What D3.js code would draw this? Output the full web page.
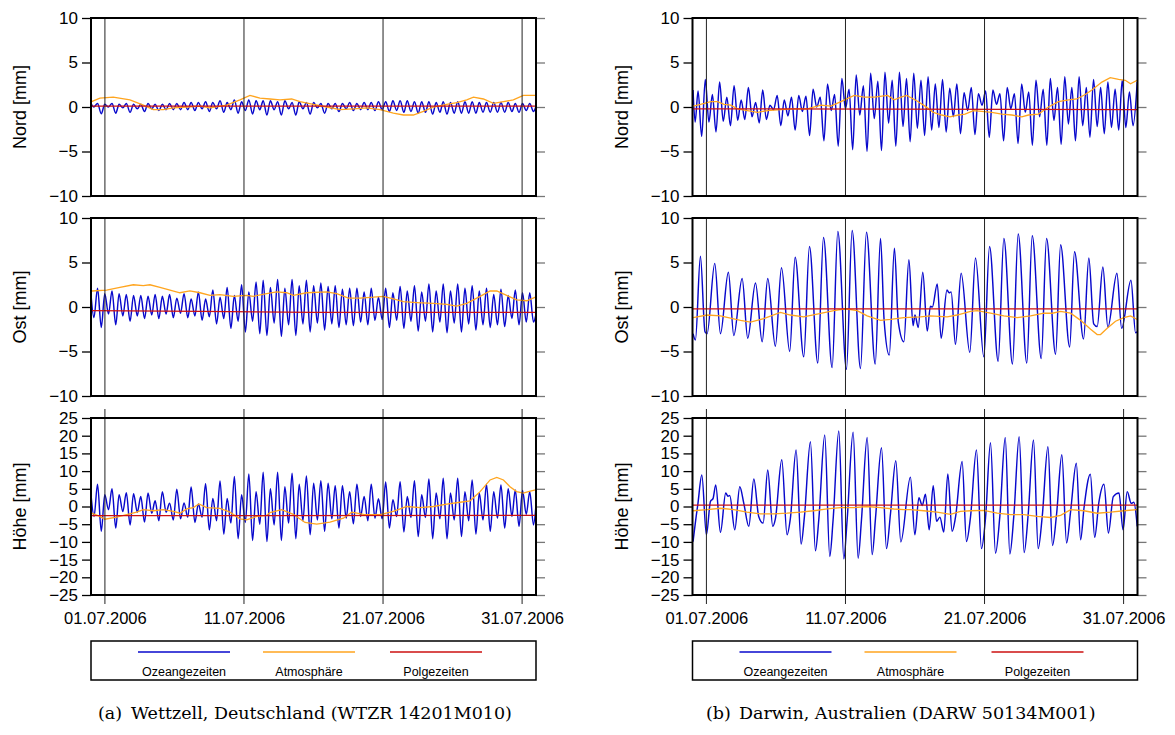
<!DOCTYPE html>
<html><head><meta charset="utf-8">
<script src="https://cdn.jsdelivr.net/npm/d3@7"></script>
<style>body{margin:0;background:#fff}svg{display:block}</style>
</head><body><svg id="c" width="1175" height="735"></svg>
<script>
// ---------- tick labels / categories ----------
const xTickLabels = ["01.07.2006","11.07.2006","21.07.2006","31.07.2006"];
const rowNames = ["Nord [mm]","Ost [mm]","Höhe [mm]"];
const yTicksNE = [-10,-5,0,5,10];
const yTicksH = [-25,-20,-15,-10,-5,0,5,10,15,20,25];
const legendLabels = ["Ozeangezeiten","Atmosphäre","Polgezeiten"];
const captionTags = ["(a)","(b)"];
const captions = ["Wettzell, Deutschland (WTZR 14201M010)","Darwin, Australien (DARW 50134M001)"];
// time axis: days since 30.06.2006 00:00
const dayDomain = [0,32];

// ---------- Wettzell ocean tide extrema (days, mm) ----------
const wtzPeakDays = [0.47,0.99,1.51,2.02,2.54,3.06,3.58,4.10,4.61,5.13,5.65,6.17,6.69,7.20,7.72,8.24,8.76,9.28,9.79,10.31,10.83,11.35,11.87,12.38,12.90,13.42,13.94,14.46,14.97,15.49,16.01,16.53,17.05,17.56,18.08,18.60,19.12,19.64,20.15,20.67,21.19,21.71,22.23,22.74,23.26,23.78,24.30,24.82,25.33,25.85,26.37,26.89,27.41,27.92,28.44,28.96,29.48,30.00,30.51,31.03,31.55];
const wtzTroughDays = [0.74,1.26,1.78,2.29,2.81,3.33,3.85,4.37,4.88,5.40,5.92,6.44,6.96,7.47,7.99,8.51,9.03,9.55,10.06,10.58,11.10,11.62,12.14,12.65,13.17,13.69,14.21,14.73,15.24,15.76,16.28,16.80,17.32,17.83,18.35,18.87,19.39,19.91,20.42,20.94,21.46,21.98,22.50,23.01,23.53,24.05,24.57,25.09,25.60,26.12,26.64,27.16,27.68,28.19,28.71,29.23,29.75,30.27,30.78,31.30,31.82];

const wtzNordPeaks = [0.4,0.3,0.4,0.3,0.4,0.3,0.3,0.4,0.3,0.3,0.4,0.4,0.5,0.5,0.5,0.6,0.5,0.7,0.5,0.8,0.6,0.8,0.7,0.7,0.7,0.6,0.7,0.5,0.6,0.5,0.5,0.4,0.4,0.4,0.4,0.5,0.4,0.5,0.5,0.6,0.6,0.7,0.7,0.7,0.6,0.6,0.6,0.5,0.6,0.5,0.6,0.6,0.6,0.5,0.5,0.5,0.5,0.5,0.4,0.4,0.4];
const wtzNordTroughs = [-0.75,0.0,-0.7,-0.1,-0.6,-0.2,-0.5,-0.2,-0.4,-0.3,-0.3,-0.3,-0.3,-0.4,-0.2,-0.5,-0.2,-0.6,-0.3,-0.7,-0.4,-0.8,-0.3,-0.9,-0.3,-0.9,-0.2,-0.9,-0.2,-0.8,-0.1,-0.7,-0.2,-0.5,-0.2,-0.4,-0.3,-0.3,-0.4,-0.3,-0.5,-0.4,-0.6,-0.5,-0.7,-0.6,-0.8,-0.6,-0.8,-0.7,-0.7,-0.7,-0.7,-0.6,-0.6,-0.6,-0.6,-0.5,-0.6,-0.4,-0.5];
const wtzNordEnds = [[0.0,0.4],[0.2,0.0],[32,0.1]];

const wtzOstPeaks = [2.1,1.5,1.8,1.5,1.4,1.3,1.3,1.2,1.4,1.2,1.4,1.0,1.5,0.9,1.7,0.9,1.9,1.1,2.2,1.3,2.5,1.7,2.8,3.0,2.2,3.1,2.1,3.1,2.4,3.0,2.4,2.7,2.3,2.4,2.0,2.1,2.1,1.7,2.1,1.1,2.1,1.6,2.3,1.8,2.4,1.7,2.6,1.8,2.6,1.8,2.6,2.1,2.4,1.8,2.1,1.4,2.0,1.3,1.9,1.6,1.6];
const wtzOstTroughs = [-2.3,-0.8,-2.0,-1.0,-1.6,-1.0,-1.3,-0.9,-1.3,-0.8,-1.2,-0.7,-1.2,-1.0,-1.5,-1.1,-1.9,-1.3,-2.4,-1.6,-2.8,-1.6,-3.0,-3.2,-1.8,-3.3,-2.0,-3.2,-1.9,-2.8,-1.8,-2.6,-1.9,-2.3,-2.0,-2.1,-1.7,-2.0,-1.5,-1.4,-2.3,-1.5,-2.4,-1.6,-2.7,-1.6,-2.8,-1.7,-2.9,-1.8,-2.8,-1.9,-2.6,-2.0,-2.3,-2.0,-2.2,-1.3,-2.0,-1.7,-1.7];
const wtzOstEnds = [[0.0,1.4],[0.21,-1.2],[32,-0.8]];

const wtzHoehePeaks = [6.3,3.3,5.0,3.3,3.9,3.6,2.8,3.8,1.6,4.2,0.9,4.9,1.0,5.5,0.7,6.4,2.3,7.2,2.3,8.5,3.3,9.2,4.2,9.7,5.0,9.7,5.6,9.4,6.3,8.6,6.6,7.3,6.6,5.9,5.9,4.2,6.3,2.8,6.3,2.2,6.9,1.9,7.0,2.8,7.3,3.3,7.8,3.8,8.0,3.8,8.0,4.2,7.5,3.8,6.3,4.2,6.1,5.0,4.7,4.5,4.2];
const wtzHoeheTroughs = [-7.0,-0.9,-6.1,-1.4,-5.2,-1.6,-4.4,-1.9,-4.0,-1.6,-3.8,-3.5,-3.0,-4.5,-3.0,-6.6,-4.0,-7.8,-4.7,-9.1,-4.5,-9.6,-5.0,-9.9,-5.2,-9.6,-4.7,-9.1,-4.0,-8.0,-3.8,-7.0,-3.5,-6.1,-3.3,-4.9,-2.8,-4.0,-3.3,-3.5,-6.1,-2.8,-7.2,-3.1,-8.5,-3.1,-9.1,-3.5,-9.1,-3.8,-8.5,-4.0,-7.8,-3.8,-7.0,-3.3,-6.1,-2.8,-5.6,-2.2,-5.2];
const wtzHoeheEnds = [[0.0,3.3],[0.22,-2.8],[32,0.5]];

// ---------- Wettzell atmosphere / pole tide ----------
const wtzNordAtm = [[0.04,0.6],[0.64,1.0],[1.6,1.1],[2.8,0.8],[3.76,0.2],[4.48,-0.3],[5.2,-0.3],[5.92,-0.1],[6.88,0.0],[7.84,0.1],[8.56,-0.1],[9.75,0.2],[10.71,0.8],[11.43,1.3],[12.15,1.0],[12.87,0.9],[13.59,0.8],[14.43,0.9],[15.03,0.6],[15.99,0.3],[16.95,0.0],[17.91,-0.3],[18.87,-0.2],[19.83,-0.1],[20.79,-0.3],[21.74,-0.7],[22.46,-0.9],[23.18,-0.9],[23.9,-0.5],[24.62,0.0],[25.58,0.3],[26.3,0.5],[27.02,0.8],[27.5,1.1],[28.22,0.9],[28.94,0.4],[29.66,0.6],[30.37,0.8],[31.09,1.3],[31.57,1.3],[31.96,1.3]];
const wtzOstAtm = [[0.04,1.8],[1.12,1.9],[2.08,2.2],[3.04,2.5],[3.76,2.4],[4.24,2.5],[4.96,2.2],[5.68,1.9],[6.39,1.6],[7.11,1.8],[7.84,1.6],[8.56,1.3],[9.27,1.4],[10.23,1.2],[11.19,1.3],[11.67,1.2],[12.63,1.5],[13.35,1.7],[14.07,1.6],[14.55,1.3],[15.51,1.6],[16.95,1.7],[17.67,1.5],[18.51,1.0],[19.35,1.0],[20.31,1.1],[21.02,1.2],[21.74,0.9],[22.46,0.6],[23.42,0.5],[24.62,0.4],[25.58,0.3],[26.3,0.1],[27.02,0.4],[27.98,1.2],[28.7,1.8],[29.18,1.8],[29.89,1.3],[30.61,0.8],[31.33,0.7],[31.96,1.1]];
const wtzHoeheAtm = [[0.04,-1.9],[0.64,-2.8],[1.0,-3.6],[1.84,-3.0],[2.56,-2.3],[3.28,-1.6],[3.76,-0.9],[4.48,-1.2],[5.2,-0.9],[5.92,-1.4],[6.4,-1.9],[6.88,-0.7],[7.36,-0.3],[7.76,0.7],[8.32,-0.3],[9.27,-0.5],[9.99,-1.6],[10.71,-3.5],[11.19,-3.8],[11.91,-2.8],[12.63,-2.5],[12.87,-1.7],[13.71,-0.9],[14.55,-2.2],[15.39,-4.5],[16.23,-5.0],[17.19,-4.4],[18.15,-3.3],[18.75,-1.6],[19.59,-2.2],[20.07,-2.3],[20.79,-2.3],[21.74,-1.4],[22.7,0.0],[23.66,-0.3],[24.62,0.0],[25.58,0.7],[26.54,1.2],[27.26,1.6],[27.98,4.2],[28.7,7.5],[29.18,8.2],[29.66,7.5],[30.13,5.6],[30.61,4.2],[31.09,3.8],[31.45,4.2],[31.96,4.7]];
const wtzNordPole = [[0,0.1],[32,0.1]];
const wtzOstPole = [[0,-0.4],[8,-0.5],[16,-0.6],[32,-0.6]];
const wtzHoehePole = [[0,-2.6],[32,-2.5]];

// ---------- Darwin ocean tide ----------
const darPeakDays = [0.40,0.92,1.43,1.95,2.47,2.99,3.50,4.02,4.54,5.05,5.57,6.09,6.60,7.12,7.64,8.16,8.67,9.19,9.71,10.22,10.74,11.26,11.77,12.29,12.81,13.33,13.84,14.36,14.88,15.39,15.91,16.43,16.94,17.46,17.98,18.50,19.01,19.53,20.05,20.56,21.08,21.60,22.11,22.63,23.15,23.67,24.18,24.70,25.22,25.73,26.25,26.77,27.28,27.80,28.32,28.84,29.35,29.87,30.39,30.90,31.42];
const darTroughDays = [0.66,1.18,1.69,2.21,2.73,3.25,3.76,4.28,4.80,5.31,5.83,6.35,6.86,7.38,7.90,8.42,8.93,9.45,9.97,10.48,11.00,11.52,12.03,12.55,13.07,13.59,14.10,14.62,15.14,15.65,16.17,16.69,17.20,17.72,18.24,18.76,19.27,19.79,20.31,20.82,21.34,21.86,22.37,22.89,23.41,23.93,24.44,24.96,25.48,25.99,26.51,27.03,27.54,28.06,28.58,29.10,29.61,30.13,30.65,31.16,31.68];
const darNordPeaks = [1.8,3.1,1.4,2.8,1.1,2.4,0.8,2.2,0.5,1.9,0.2,1.3,0.8,1.1,1.3,1.2,2.0,1.1,2.6,1.4,3.2,2.0,3.6,2.4,3.8,2.9,3.9,3.0,3.9,3.2,3.8,3.0,3.4,2.6,3.1,2.1,2.6,1.6,2.2,1.5,1.8,1.9,1.5,2.2,1.5,2.6,1.7,3.0,2.0,3.2,2.2,3.4,2.2,3.4,2.2,3.1,2.2,2.8,2.0,3.0,1.7];
const darNordTroughs = [-3.3,-1.7,-2.8,-1.6,-2.1,-1.5,-1.4,-1.1,-1.8,-1.4,-0.3,-2.1,-1.0,-2.6,-0.5,-3.2,0.0,-3.8,-0.4,-4.4,-0.2,-4.8,-0.9,-5.0,-1.3,-4.9,-1.8,-4.4,-2.2,-3.9,-2.4,-3.2,-2.6,-2.3,-2.8,-1.1,-3.0,-0.4,-3.1,0.2,-3.4,0.3,-3.8,-0.2,-4.1,-0.6,-4.3,-1.1,-4.3,-1.5,-4.2,-1.9,-3.8,-2.1,-3.4,-2.2,-3.0,-2.3,-2.6,-2.3,-2.1];
const darNordEnds = [[0.04,1.9],[0.19,-1.7],[31.98,2.8]];

const darOstTide = [[0.04,-3.0],[0.21,-3.7],[0.57,5.7],[0.9,-2.8],[1.05,-3.0],[1.60,4.9],[2.01,-3.0],[2.58,3.9],[2.97,-3.2],[3.57,3.2],[3.97,-3.5],[4.53,2.7],[5.01,-3.9],[5.41,3.2],[5.96,-4.4],[6.40,4.4],[6.99,-5.0],[7.38,5.6],[8.0,-5.6],[8.41,6.8],[9.01,-6.3],[9.42,7.8],[10.04,-6.8],[10.45,8.5],[11.07,-7.0],[11.48,8.6],[12.08,-6.9],[12.51,8.4],[13.14,-6.4],[13.52,7.7],[13.78,-1.5],[14.15,-5.4],[14.52,6.6],[14.8,-1.7],[15.2,-3.9],[15.56,5.3],[15.86,-2.1],[16.0,-0.9],[16.23,-2.3],[16.56,3.9],[16.88,-2.7],[17.11,0.1],[17.25,0.0],[17.6,2.6],[17.88,-3.5],[18.3,1.9],[18.45,1.6],[18.6,1.7],[18.91,-4.2],[19.32,3.8],[19.94,-5.1],[20.35,5.5],[20.95,-5.6],[21.36,6.8],[21.98,-6.1],[22.39,7.7],[23.01,-6.4],[23.42,8.2],[24.04,-6.3],[24.43,8.0],[25.08,-5.8],[25.46,7.7],[26.11,-5.3],[26.47,7.0],[27.12,-4.5],[27.47,6.2],[28.12,-3.6],[28.5,5.5],[28.85,-1.9],[29.1,-2.2],[29.51,4.5],[29.87,-2.3],[30.52,3.8],[30.86,-2.4],[31.53,3.0],[31.86,-2.9],[31.98,-2.8]];

const darHoeheTide = [[0.04,-9.9],[0.33,-0.9],[0.38,0.5],[0.67,8.9],[1.0,-8.0],[1.29,1.4],[1.48,2.3],[1.67,6.1],[2.01,-7.3],[2.39,3.8],[2.55,2.9],[2.68,3.1],[3.04,-6.6],[3.4,5.6],[3.69,0.9],[4.05,-5.6],[4.41,7.8],[4.76,-2.8],[5.08,-4.7],[5.41,10.3],[5.77,-5.6],[5.96,-3.5],[6.42,13.2],[6.8,-8.0],[7.04,-3.3],[7.45,16.0],[7.81,-10.6],[8.05,-2.8],[8.48,18.3],[8.84,-12.5],[9.08,-3.8],[9.51,20.2],[9.87,-14.1],[10.11,-3.8],[10.52,21.3],[10.88,-14.8],[11.12,-3.8],[11.55,21.0],[11.91,-14.6],[12.15,-3.8],[12.56,19.5],[12.92,-13.6],[13.16,-3.3],[13.59,16.6],[13.95,-11.9],[14.24,-1.9],[14.62,12.9],[14.98,-10.0],[15.67,8.3],[15.99,-8.0],[16.28,2.5],[16.52,0.3],[16.75,3.5],[17.02,-6.6],[17.31,5.9],[17.55,-4.2],[17.79,-3.0],[18.07,-7.2],[18.36,9.2],[18.67,-7.0],[18.91,-3.1],[19.39,12.7],[19.7,-9.9],[19.99,-3.0],[20.42,16.0],[20.78,-11.9],[21.07,-3.3],[21.43,18.0],[21.79,-13.2],[22.1,-2.8],[22.49,19.5],[22.82,-13.4],[23.11,-2.5],[23.49,19.7],[23.85,-13.0],[24.14,-2.2],[24.52,18.8],[24.86,-11.9],[25.15,-2.8],[25.56,16.9],[25.89,-11.0],[26.18,-2.2],[26.56,14.6],[26.9,-10.3],[27.19,-1.4],[27.6,12.2],[27.91,-9.4],[28.15,-0.5],[28.61,9.1],[28.92,-8.7],[29.23,1.4],[29.59,6.3],[29.91,-7.5],[30.26,2.8],[30.67,3.8],[30.96,-6.6],[31.26,4.2],[31.55,0.9],[31.74,1.2],[31.98,-5.6]];

// ---------- Darwin atmosphere / pole tide ----------
const darNordAtm = [[0.04,0.1],[0.58,0.3],[1.31,0.6],[1.79,0.6],[2.27,0.3],[2.75,0.2],[3.23,-0.2],[3.95,-0.4],[4.67,-0.6],[5.39,-0.4],[6.35,-0.3],[7.31,-0.2],[8.27,-0.2],[9.23,0.2],[9.95,0.1],[10.67,0.6],[11.63,1.3],[12.35,1.1],[13.07,1.1],[14.03,1.3],[14.51,0.8],[14.99,1.1],[15.4,1.3],[16.12,0.7],[16.72,0.1],[17.32,-0.6],[17.92,-0.9],[18.52,-1.1],[19.12,-0.9],[19.6,-0.8],[20.2,-0.4],[20.8,-0.5],[21.52,-0.6],[22.24,-0.8],[22.96,-0.9],[23.68,-1.1],[24.16,-0.9],[24.88,-0.8],[25.6,0.0],[26.32,0.6],[27.04,0.8],[27.64,0.9],[28.24,1.4],[28.72,1.9],[29.44,2.8],[30.04,3.3],[30.64,3.1],[31.12,3.0],[31.5,2.6],[31.98,3.0]];
const darOstAtm = [[0.04,-1.2],[1.05,-0.9],[2.01,-1.0],[3.45,-1.5],[4.17,-1.7],[5.12,-1.3],[6.32,-0.6],[7.04,-0.9],[8.0,-1.1],[8.96,-0.8],[10.16,-0.4],[11.0,-0.2],[11.84,-0.4],[12.56,-1.0],[13.52,-1.5],[14.24,-1.4],[15.2,-1.2],[16.39,-1.1],[17.11,-1.0],[18.31,-1.1],[19.03,-0.9],[19.99,-0.5],[20.47,-0.4],[21.43,-0.7],[22.39,-1.0],[23.35,-1.2],[24.31,-1.0],[25.27,-0.7],[25.87,-0.7],[26.47,-0.5],[27.19,-0.7],[27.91,-1.5],[28.63,-2.5],[29.1,-3.1],[29.34,-3.1],[29.82,-2.4],[30.42,-1.6],[31.02,-1.2],[31.5,-1.0],[31.98,-1.4]];
const darHoeheAtm = [[0.04,-1.2],[1.05,-0.9],[2.01,-0.5],[2.97,-0.9],[3.92,-1.6],[4.88,-2.1],[5.84,-2.1],[6.8,-1.9],[7.76,-1.6],[8.72,-1.2],[9.68,-0.7],[10.64,-0.3],[11.6,-0.3],[12.56,0.0],[13.52,-0.3],[14.48,-0.7],[15.2,-0.9],[15.67,-0.9],[16.63,-1.2],[17.59,-1.6],[18.55,-2.2],[19.27,-1.4],[19.99,-1.2],[20.95,-1.1],[21.91,-1.9],[22.87,-2.3],[23.83,-2.3],[24.79,-2.8],[25.75,-3.1],[26.47,-2.5],[27.19,-0.9],[28.15,-1.2],[29.1,-1.9],[30.06,-1.6],[31.02,-1.2],[31.98,-0.9]];
const darNordPole = [[0,-0.2],[32,-0.3]];
const darOstPole = [[0,-0.2],[32,-0.2]];
const darHoehePole = [[0,0.4],[32,0.4]];

// ---------- build ----------
function gridSeries(pd,pv,td,tv,ends){
  const pts = ends.map(d=>d.slice());
  pd.forEach((t,i)=>pts.push([t,pv[i]]));
  td.forEach((t,i)=>pts.push([t,tv[i]]));
  return pts.sort((a,b)=>a[0]-b[0]);
}
const panelsData = [
  [
    {tide:gridSeries(wtzPeakDays,wtzNordPeaks,wtzTroughDays,wtzNordTroughs,wtzNordEnds), atm:wtzNordAtm, pole:wtzNordPole},
    {tide:gridSeries(wtzPeakDays,wtzOstPeaks,wtzTroughDays,wtzOstTroughs,wtzOstEnds), atm:wtzOstAtm, pole:wtzOstPole},
    {tide:gridSeries(wtzPeakDays,wtzHoehePeaks,wtzTroughDays,wtzHoeheTroughs,wtzHoeheEnds), atm:wtzHoeheAtm, pole:wtzHoehePole}
  ],
  [
    {tide:gridSeries(darPeakDays,darNordPeaks,darTroughDays,darNordTroughs,darNordEnds), atm:darNordAtm, pole:darNordPole},
    {tide:darOstTide, atm:darOstAtm, pole:darOstPole},
    {tide:darHoeheTide, atm:darHoeheAtm, pole:darHoehePole}
  ]
];

const COLORS = {tide:"#0808cc", atm:"#ffa51f", pole:"#cc1010"};
const legendColors = [COLORS.tide, COLORS.atm, COLORS.pole];
const panelX = [91, 692.5], plotW = 445;
const rowY = [18, 218, 418], rowH = [178, 178, 177];
const t0 = Date.UTC(2006,5,30);
const toDate = d => new Date(t0 + d*864e5);
const parseTick = d3.utcParse("%d.%m.%Y");
const tickDates = xTickLabels.map(parseTick);

const svg = d3.select("#c");
const FONT = "Liberation Sans, Arial, sans-serif";

panelsData.forEach((rows, pi) => {
  const x = d3.scaleUtc().domain(dayDomain.map(toDate)).range([panelX[pi], panelX[pi]+plotW]);
  rows.forEach((row, ri) => {
    const y0 = rowY[ri], h = rowH[ri];
    const isH = ri === 2;
    const y = d3.scaleLinear().domain(isH?[-25,25]:[-10,10]).range([y0+h, y0]);
    const ticks = isH ? yTicksH : yTicksNE;
    const g = svg.append("g");
    const cid = `clip${pi}${ri}`;
    g.append("clipPath").attr("id",cid).append("rect")
      .attr("x",panelX[pi]).attr("y",y0).attr("width",plotW).attr("height",h);
    const plot = g.append("g").attr("clip-path",`url(#${cid})`);
    const line = d3.line().x(d=>x(toDate(d[0]))).y(d=>y(d[1]));
    plot.append("path").datum(row.tide).attr("fill","none").attr("stroke",COLORS.tide)
      .attr("stroke-width",1.45).attr("stroke-linejoin","round").attr("d",line.curve(d3.curveMonotoneX));
    plot.append("path").datum(row.atm).attr("fill","none").attr("stroke",COLORS.atm)
      .attr("stroke-width",1.3).attr("d",d3.line().x(d=>x(toDate(d[0]))).y(d=>y(d[1])));
    plot.append("path").datum(row.pole).attr("fill","none").attr("stroke",COLORS.pole)
      .attr("stroke-width",1.3).attr("d",d3.line().x(d=>x(toDate(d[0]))).y(d=>y(d[1])));
    // vertical date lines
    g.selectAll("line.v").data(tickDates).enter().append("line")
      .attr("x1",d=>x(d)).attr("x2",d=>x(d))
      .attr("y1", isH ? y0-9 : y0).attr("y2", isH ? y0+h+9 : y0+h)
      .attr("stroke","#222").attr("stroke-width",1);
    // left axis
    const ax = g.append("g").attr("transform",`translate(${panelX[pi]},0)`)
      .call(d3.axisLeft(y).tickValues(ticks).tickSize(9).tickPadding(4));
    ax.select(".domain").remove();
    ax.selectAll("line").attr("stroke","#000").attr("stroke-width",1.3);
    ax.selectAll("text").attr("font-family",FONT).attr("font-size",17).attr("fill","#000");
    // right axis (ticks only)
    const ar = g.append("g").attr("transform",`translate(${panelX[pi]+plotW},0)`)
      .call(d3.axisRight(y).tickValues(ticks).tickSize(9).tickFormat(""));
    ar.select(".domain").remove();
    ar.selectAll("line").attr("stroke","#777").attr("stroke-width",1.3);
    // frame
    g.append("rect").attr("x",panelX[pi]).attr("y",y0).attr("width",plotW).attr("height",h)
      .attr("fill","none").attr("stroke","#000").attr("stroke-width",2);
    // y title
    g.append("text").attr("transform",`translate(${panelX[pi]-71},${y0+h/2}) rotate(-90)`)
      .attr("text-anchor","middle").attr("dominant-baseline","central")
      .attr("font-family",FONT).attr("font-size",18).text(rowNames[ri]);
    if (isH) {
      const axb = g.append("g").attr("transform",`translate(0,${y0+h})`)
        .call(d3.axisBottom(x).tickValues(tickDates).tickSize(0).tickPadding(17)
          .tickFormat((d,i)=>xTickLabels[i]));
      axb.select(".domain").remove();
      axb.selectAll("text").attr("font-family",FONT).attr("font-size",16.5).attr("fill","#000");
    }
  });
  // legend
  const lx = panelX[pi];
  const lg = svg.append("g");
  lg.append("rect").attr("x",lx).attr("y",641).attr("width",plotW).attr("height",39)
    .attr("fill","none").attr("stroke","#000").attr("stroke-width",1.5);
  const itemCx = [93, 218, 345];
  legendLabels.forEach((lab,i)=>{
    lg.append("line").attr("x1",lx+itemCx[i]-46).attr("x2",lx+itemCx[i]+46)
      .attr("y1",652).attr("y2",652).attr("stroke",legendColors[i]).attr("stroke-width",1.3);
    lg.append("text").attr("x",lx+itemCx[i]).attr("y",676).attr("text-anchor","middle")
      .attr("font-family",FONT).attr("font-size",12.5).text(lab);
  });
  const capX = pi === 0 ? 98 : 706;
  svg.append("text").attr("x",capX).attr("y",719)
    .attr("font-family","DejaVu Serif, serif").attr("font-size",17.5).text(captionTags[pi]);
  svg.append("text").attr("x",capX+33).attr("y",719)
    .attr("font-family","DejaVu Serif, serif").attr("font-size",17.5).text(captions[pi]);
});
</script>
</body></html>
